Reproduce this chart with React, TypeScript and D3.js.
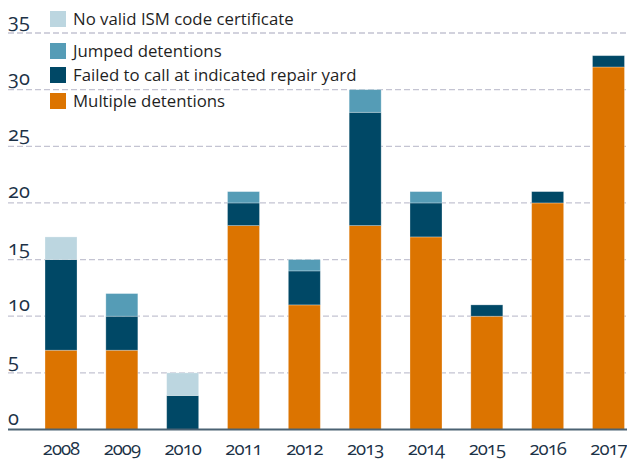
import { useEffect, useRef } from "react";
import * as d3 from "d3";

const years = ["2008", "2009", "2010", "2011", "2012", "2013", "2014", "2015", "2016", "2017"];
const multiple = [7, 7, 0, 18, 11, 18, 17, 10, 20, 32];
const failedRepair = [8, 3, 3, 2, 3, 10, 3, 1, 1, 1];
const jumped = [0, 2, 0, 1, 1, 2, 1, 0, 0, 0];
const noIsm = [2, 0, 2, 0, 0, 0, 0, 0, 0, 0];
const yTicks = [0, 5, 10, 15, 20, 25, 30, 35];

const seriesKeys = ["multiple", "failed", "jumped", "ism"];
const seriesColors: Record<string, string> = {
  multiple: "#dc7400",
  failed: "#004866",
  jumped: "#559cb6",
  ism: "#bcd6e0",
};
// legend listed top to bottom
const legendItems = [
  { key: "ism", label: "No valid ISM code certificate" },
  { key: "jumped", label: "Jumped detentions" },
  { key: "failed", label: "Failed to call at indicated repair yard" },
  { key: "multiple", label: "Multiple detentions" },
];
const legendY = [11, 43, 67, 93];

export default function App() {
  const svgRef = useRef<SVGSVGElement>(null);

  useEffect(() => {
    const svg = d3.select(svgRef.current);
    svg.selectAll("*").remove();

    const width = 627;
    const height = 464;
    const font = "'Open Sans', 'DejaVu Sans', sans-serif";
    const nums = "oldstyle-nums";

    const rows = years.map((y, i) => ({
      year: y,
      multiple: multiple[i],
      failed: failedRepair[i],
      jumped: jumped[i],
      ism: noIsm[i],
    }));

    const x = d3
      .scaleBand()
      .domain(years)
      .range([30.6, 638.9])
      .paddingInner(0.474)
      .paddingOuter(0.237);

    const y = d3.scaleLinear().domain([0, 35]).range([429.5, 33]);

    // gridlines
    svg
      .append("g")
      .selectAll("line")
      .data(yTicks.filter((d) => d > 0))
      .enter()
      .append("line")
      .attr("x1", 8)
      .attr("x2", width)
      .attr("y1", (d) => y(d))
      .attr("y2", (d) => y(d))
      .attr("stroke", "#c4c4d2")
      .attr("stroke-width", 1.3)
      .attr("stroke-dasharray", "6,3");

    // tick labels
    svg
      .append("g")
      .selectAll("text")
      .data(yTicks)
      .enter()
      .append("text")
      .attr("x", 8)
      .attr("y", (d) => y(d) - 5)
      .attr("font-family", font)
      .attr("font-size", 20)
      .style("font-variant-numeric", nums)
      .attr("fill", "#1c3247")
      .text((d) => d);

    // stacked bars
    const stacked = d3.stack<any>().keys(seriesKeys)(rows);
    svg
      .append("g")
      .selectAll("g")
      .data(stacked)
      .enter()
      .append("g")
      .attr("fill", (s) => seriesColors[s.key])
      .selectAll("rect")
      .data((s) => s.filter((d) => d[1] - d[0] > 0))
      .enter()
      .append("rect")
      .attr("x", (d) => x(d.data.year)!)
      .attr("width", x.bandwidth())
      .attr("y", (d) => y(d[1]))
      .attr("height", (d) => y(d[0]) - y(d[1]))
      .attr("stroke", "rgba(255,255,255,0.35)")
      .attr("stroke-width", 0.8);

    // baseline
    svg
      .append("line")
      .attr("x1", 8)
      .attr("x2", width)
      .attr("y1", y(0))
      .attr("y2", y(0))
      .attr("stroke", "#4b6273")
      .attr("stroke-width", 2);

    // year labels
    svg
      .append("g")
      .selectAll("text")
      .data(years)
      .enter()
      .append("text")
      .attr("x", (d) => x(d)! + x.bandwidth() / 2)
      .attr("y", 455)
      .attr("text-anchor", "middle")
      .attr("font-family", font)
      .attr("font-size", 18.5)
      .attr("letter-spacing", -1)
      .style("font-variant-numeric", nums)
      .attr("fill", "#1c3247")
      .text((d) => d);

    // legend
    const legend = svg
      .append("g")
      .selectAll("g")
      .data(legendItems)
      .enter()
      .append("g")
      .attr("transform", (d, i) => `translate(50,${legendY[i]})`);
    legend
      .append("rect")
      .attr("width", 16)
      .attr("height", 16)
      .attr("fill", (d) => seriesColors[d.key]);
    legend
      .append("text")
      .attr("x", 23)
      .attr("y", 13.5)
      .attr("font-family", font)
      .attr("font-size", 16.8)
      .attr("fill", "#1f1f1f")
      .text((d) => d.label);

    svg.attr("width", width).attr("height", height);
  }, []);

  return (
    <svg
      ref={svgRef}
      style={{ position: "absolute", left: 0, top: 0, display: "block" }}
    ></svg>
  );
}
